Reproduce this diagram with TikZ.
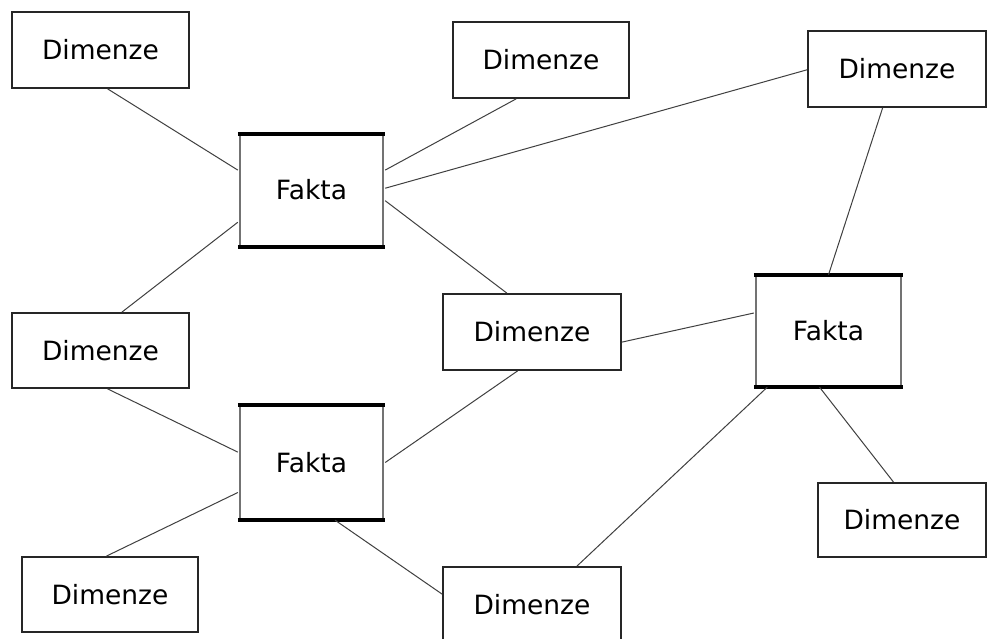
\documentclass[tikz,border=0pt]{standalone}
\usepackage{fontspec}
\setmainfont{DejaVu Sans}
\usetikzlibrary{calc}
\begin{document}
\begin{tikzpicture}[x=1pt,y=-1pt,
  label font/.style={font=\fontsize{26.5}{31}\selectfont},
  dimbox/.style={label font, draw=black!85, line width=1.8pt, fill=white,
    inner sep=0pt, text height=19pt, text depth=0pt},
  factbox/.style={label font, fill=white, inner sep=0pt, minimum width=147pt,
    text height=19pt, text depth=0pt},
  factside/.style={draw=black!55, line width=1.6pt},
  factbar/.style={draw=black, line width=4pt},
  link/.style={draw=black!75, line width=1pt}]

\clip (0,0) rectangle (987,639);
\fill[white] (0,0) rectangle (987,639);

% dimension tables
\node[dimbox, minimum width=177pt, minimum height=76pt] (D1) at (100.5,50)  {Dimenze};
\node[dimbox, minimum width=176pt, minimum height=76pt] (D2) at (541,60)    {Dimenze};
\node[dimbox, minimum width=178pt, minimum height=76pt] (D3) at (897,69)    {Dimenze};
\node[dimbox, minimum width=177pt, minimum height=75pt] (D4) at (100.5,350.5) {Dimenze};
\node[dimbox, minimum width=178pt, minimum height=76pt] (D5) at (532,332)   {Dimenze};
\node[dimbox, minimum width=168pt, minimum height=74pt] (D6) at (902,520)   {Dimenze};
\node[dimbox, minimum width=176pt, minimum height=75pt] (D7) at (110,594.5) {Dimenze};
\node[dimbox, minimum width=178pt, minimum height=76pt] (D8) at (532,605)   {Dimenze};

% fact tables: thin grey sides, heavy black top and bottom bars
\node[factbox, minimum height=113pt] (F1) at (311.5,190.5) {Fakta};
\node[factbox, minimum width=149pt, minimum height=112pt] (F2) at (828.5,331) {Fakta};
\node[factbox, minimum height=115pt] (F3) at (311.5,462.5) {Fakta};

\foreach \f in {F1,F2,F3} {
  \draw[factside] ($(\f.north west)+(2,0)$) -- ($(\f.south west)+(2,0)$);
  \draw[factside] ($(\f.north east)+(-2,0)$) -- ($(\f.south east)+(-2,0)$);
  \draw[factbar] (\f.north west) -- (\f.north east);
  \draw[factbar] (\f.south west) -- (\f.south east);
}

% links between fact and dimension tables
\draw[link] ($(D1.south west)!0.54!(D1.south east)$) -- ($(F1.north west)!0.32!(F1.south west)$);
\draw[link] ($(D2.south west)!0.36!(D2.south east)$) -- ($(F1.north east)!0.32!(F1.south east)$);
\draw[link] ($(D3.north west)!0.51!(D3.south west)$) -- ($(F1.north east)!0.48!(F1.south east)$);
\draw[link] ($(F1.north east)!0.59!(F1.south east)$) -- ($(D5.north west)!0.36!(D5.north east)$);
\draw[link] ($(F1.north west)!0.78!(F1.south west)$) -- ($(D4.north west)!0.62!(D4.north east)$);
\draw[link] ($(D4.south west)!0.54!(D4.south east)$) -- ($(F3.north west)!0.41!(F3.south west)$);
\draw[link] ($(D5.south west)!0.42!(D5.south east)$) -- ($(F3.north east)!0.50!(F3.south east)$);
\draw[link] ($(F3.north west)!0.76!(F3.south west)$) -- ($(D7.north west)!0.48!(D7.north east)$);
\draw[link] ($(F3.south west)!0.66!(F3.south east)$) -- ($(D8.north west)!0.36!(D8.south west)$);
\draw[link] ($(D5.north east)!0.63!(D5.south east)$) -- ($(F2.north west)!0.34!(F2.south west)$);
\draw[link] ($(D3.south west)!0.42!(D3.south east)$) -- ($(F2.north west)!0.50!(F2.north east)$);
\draw[link] ($(F2.south west)!0.09!(F2.south east)$) -- ($(D8.north west)!0.75!(D8.north east)$);
\draw[link] ($(F2.south west)!0.44!(F2.south east)$) -- ($(D6.north west)!0.45!(D6.north east)$);
\end{tikzpicture}
\end{document}
